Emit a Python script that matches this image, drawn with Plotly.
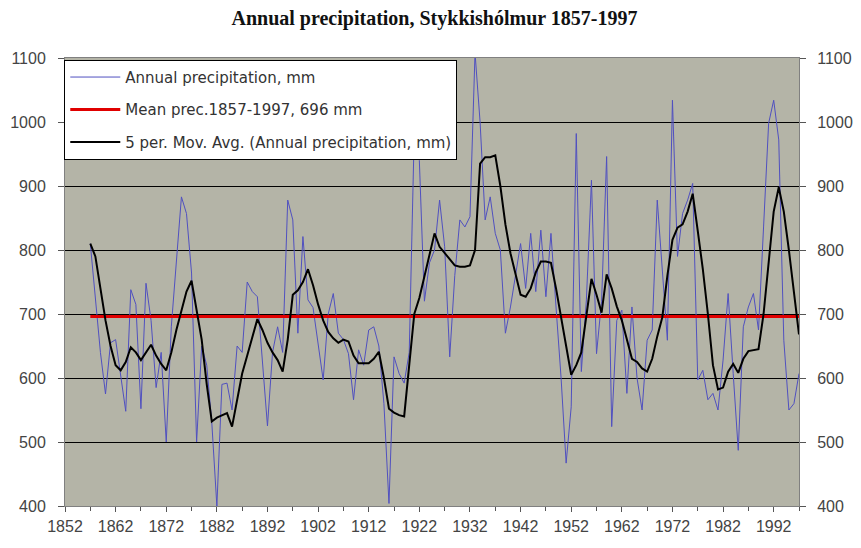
import plotly.graph_objects as go

years = list(range(1857, 1998))

annual_prec = [
    810, 720, 640, 575, 655, 660, 600, 548, 738, 715,   # 1857-1866
    552, 748, 690, 585, 640, 500, 680, 784, 883, 857,   # 1867-1876
    764, 500, 650, 620, 530, 400, 590, 592, 550, 650,   # 1877-1886
    640, 750, 735, 727, 620, 525, 640, 680, 640, 878,   # 1887-1896
    847, 670, 821, 722, 710, 650, 597, 700, 732, 670,   # 1897-1906
    660, 638, 566, 644, 620, 675, 680, 650, 560, 404,   # 1907-1916
    633, 607, 592, 640, 985, 940, 720, 780, 800, 878,   # 1917-1926
    805, 633, 760, 847, 836, 852, 1108, 1000, 847, 883, # 1927-1936
    826, 800, 670, 711, 760, 810, 740, 826, 735, 831,   # 1937-1946
    727, 826, 711, 600, 467, 555, 982, 610, 722, 909,   # 1947-1956
    638, 720, 946, 524, 690, 706, 576, 711, 600, 550,   # 1957-1966
    659, 675, 878, 764, 659, 1034, 790, 857, 878, 904,  # 1967-1976
    597, 612, 566, 576, 550, 628, 732, 607, 487, 680,   # 1977-1986
    711, 732, 675, 836, 998, 1034, 972, 659, 550, 560,  # 1987-1996
    607,                                                # 1997
]

mov_avg = [
    810, 790, 740, 690, 650, 620, 612, 625, 648, 640,   # 1857-1866
    628, 640, 652, 635, 622, 612, 640, 675, 705, 735,   # 1867-1876
    752, 705, 660, 590, 532, 538, 542, 545, 524, 565,   # 1877-1886
    607, 635, 665, 692, 675, 655, 640, 628, 610, 660,   # 1887-1896
    730, 737, 750, 770, 745, 715, 690, 672, 662, 655,   # 1897-1906
    660, 657, 635, 623, 623, 623, 630, 641, 600, 552,   # 1907-1916
    546, 542, 540, 620, 700, 725, 760, 795, 826, 805,   # 1917-1926
    795, 785, 776, 774, 774, 776, 800, 935, 945, 945,   # 1927-1936
    948, 900, 840, 795, 760, 730, 727, 740, 765, 782,   # 1937-1946
    782, 780, 740, 698, 650, 605, 620, 640, 700, 755,   # 1947-1956
    730, 702, 762, 740, 712, 690, 660, 630, 625, 615,   # 1957-1966
    610, 630, 665, 695, 760, 816, 835, 840, 860, 888,   # 1967-1976
    830, 770, 700, 620, 582, 585, 610, 622, 608, 630,   # 1977-1986
    642, 643, 645, 700, 780, 860, 898, 860, 800, 730,   # 1987-1996
    668,                                                # 1997
]

mean_years = [1857, 1997]
mean_value = [696, 696]

y_ticks = [400, 500, 600, 700, 800, 900, 1000, 1100]
x_ticks = list(range(1852, 1997, 10))

font_family = "Liberation Sans, Arial, sans-serif"

fig = go.Figure()
fig.add_trace(go.Scatter(
    x=years, y=annual_prec, mode="lines", name="Annual precipitation, mm",
    line=dict(color="#5050c0", width=1), legendgroup="a"))
fig.add_trace(go.Scatter(
    x=mean_years, y=mean_value, mode="lines", name="Mean prec.1857-1997, 696 mm",
    line=dict(color="#e00000", width=3), legendgroup="b"))
fig.add_trace(go.Scatter(
    x=years, y=mov_avg, mode="lines",
    name="5 per. Mov. Avg. (Annual precipitation, mm)",
    line=dict(color="#000000", width=2), legendgroup="c"))
# right axis companion (invisible) so the mirrored value axis is drawn
fig.add_trace(go.Scatter(
    x=mean_years, y=mean_value, mode="lines", yaxis="y2",
    line=dict(color="rgba(0,0,0,0)", width=0), showlegend=False, hoverinfo="skip"))

axis_font = dict(family=font_family, size=16, color="#444444")

fig.update_layout(
    width=853, height=540, autosize=False,
    margin=dict(l=57, r=62, t=50, b=42),
    paper_bgcolor="white", plot_bgcolor="#b4b4a7",
    title=dict(text="<b>Annual precipitation, Stykkishólmur 1857-1997</b>",
               x=0.5, xanchor="center", y=0.981, yanchor="middle",
               font=dict(family="Liberation Serif, Times New Roman, serif", size=20, color="#111111")),
    xaxis=dict(range=[1852, 1997], tickvals=x_ticks, ticks="outside", ticklen=5,
               tickcolor="#555555", showgrid=False, zeroline=False, automargin=False,
               showline=True, linecolor="#808080", linewidth=1, mirror=True,
               tickfont=axis_font, ticklabelstandoff=1,
               minor=dict(dtick=5, tick0=1852, ticks="outside", ticklen=4, tickcolor="#555555")),
    yaxis=dict(range=[400, 1100], tickvals=y_ticks, ticks="outside", ticklen=6,
               tickcolor="#555555", showgrid=True, gridcolor="#000000", gridwidth=1,
               zeroline=False, showline=True, linecolor="#808080", linewidth=1,
               automargin=False, tickfont=axis_font, ticklabelstandoff=9),
    yaxis2=dict(range=[400, 1100], tickvals=y_ticks, overlaying="y", side="right",
                ticks="outside", ticklen=6, tickcolor="#555555", showgrid=False,
                zeroline=False, showline=True, linecolor="#808080", linewidth=1,
                automargin=False, tickfont=axis_font, ticklabelstandoff=8),
    showlegend=True,
    legend=dict(x=-0.001, y=0.996, xanchor="left", yanchor="top",
                bgcolor="white", bordercolor="#000000", borderwidth=1,
                font=dict(family="DejaVu Sans, sans-serif", size=15, color="#333333"),
                traceorder="grouped", tracegroupgap=10, itemwidth=50),
)

fig.write_html("out.html")
